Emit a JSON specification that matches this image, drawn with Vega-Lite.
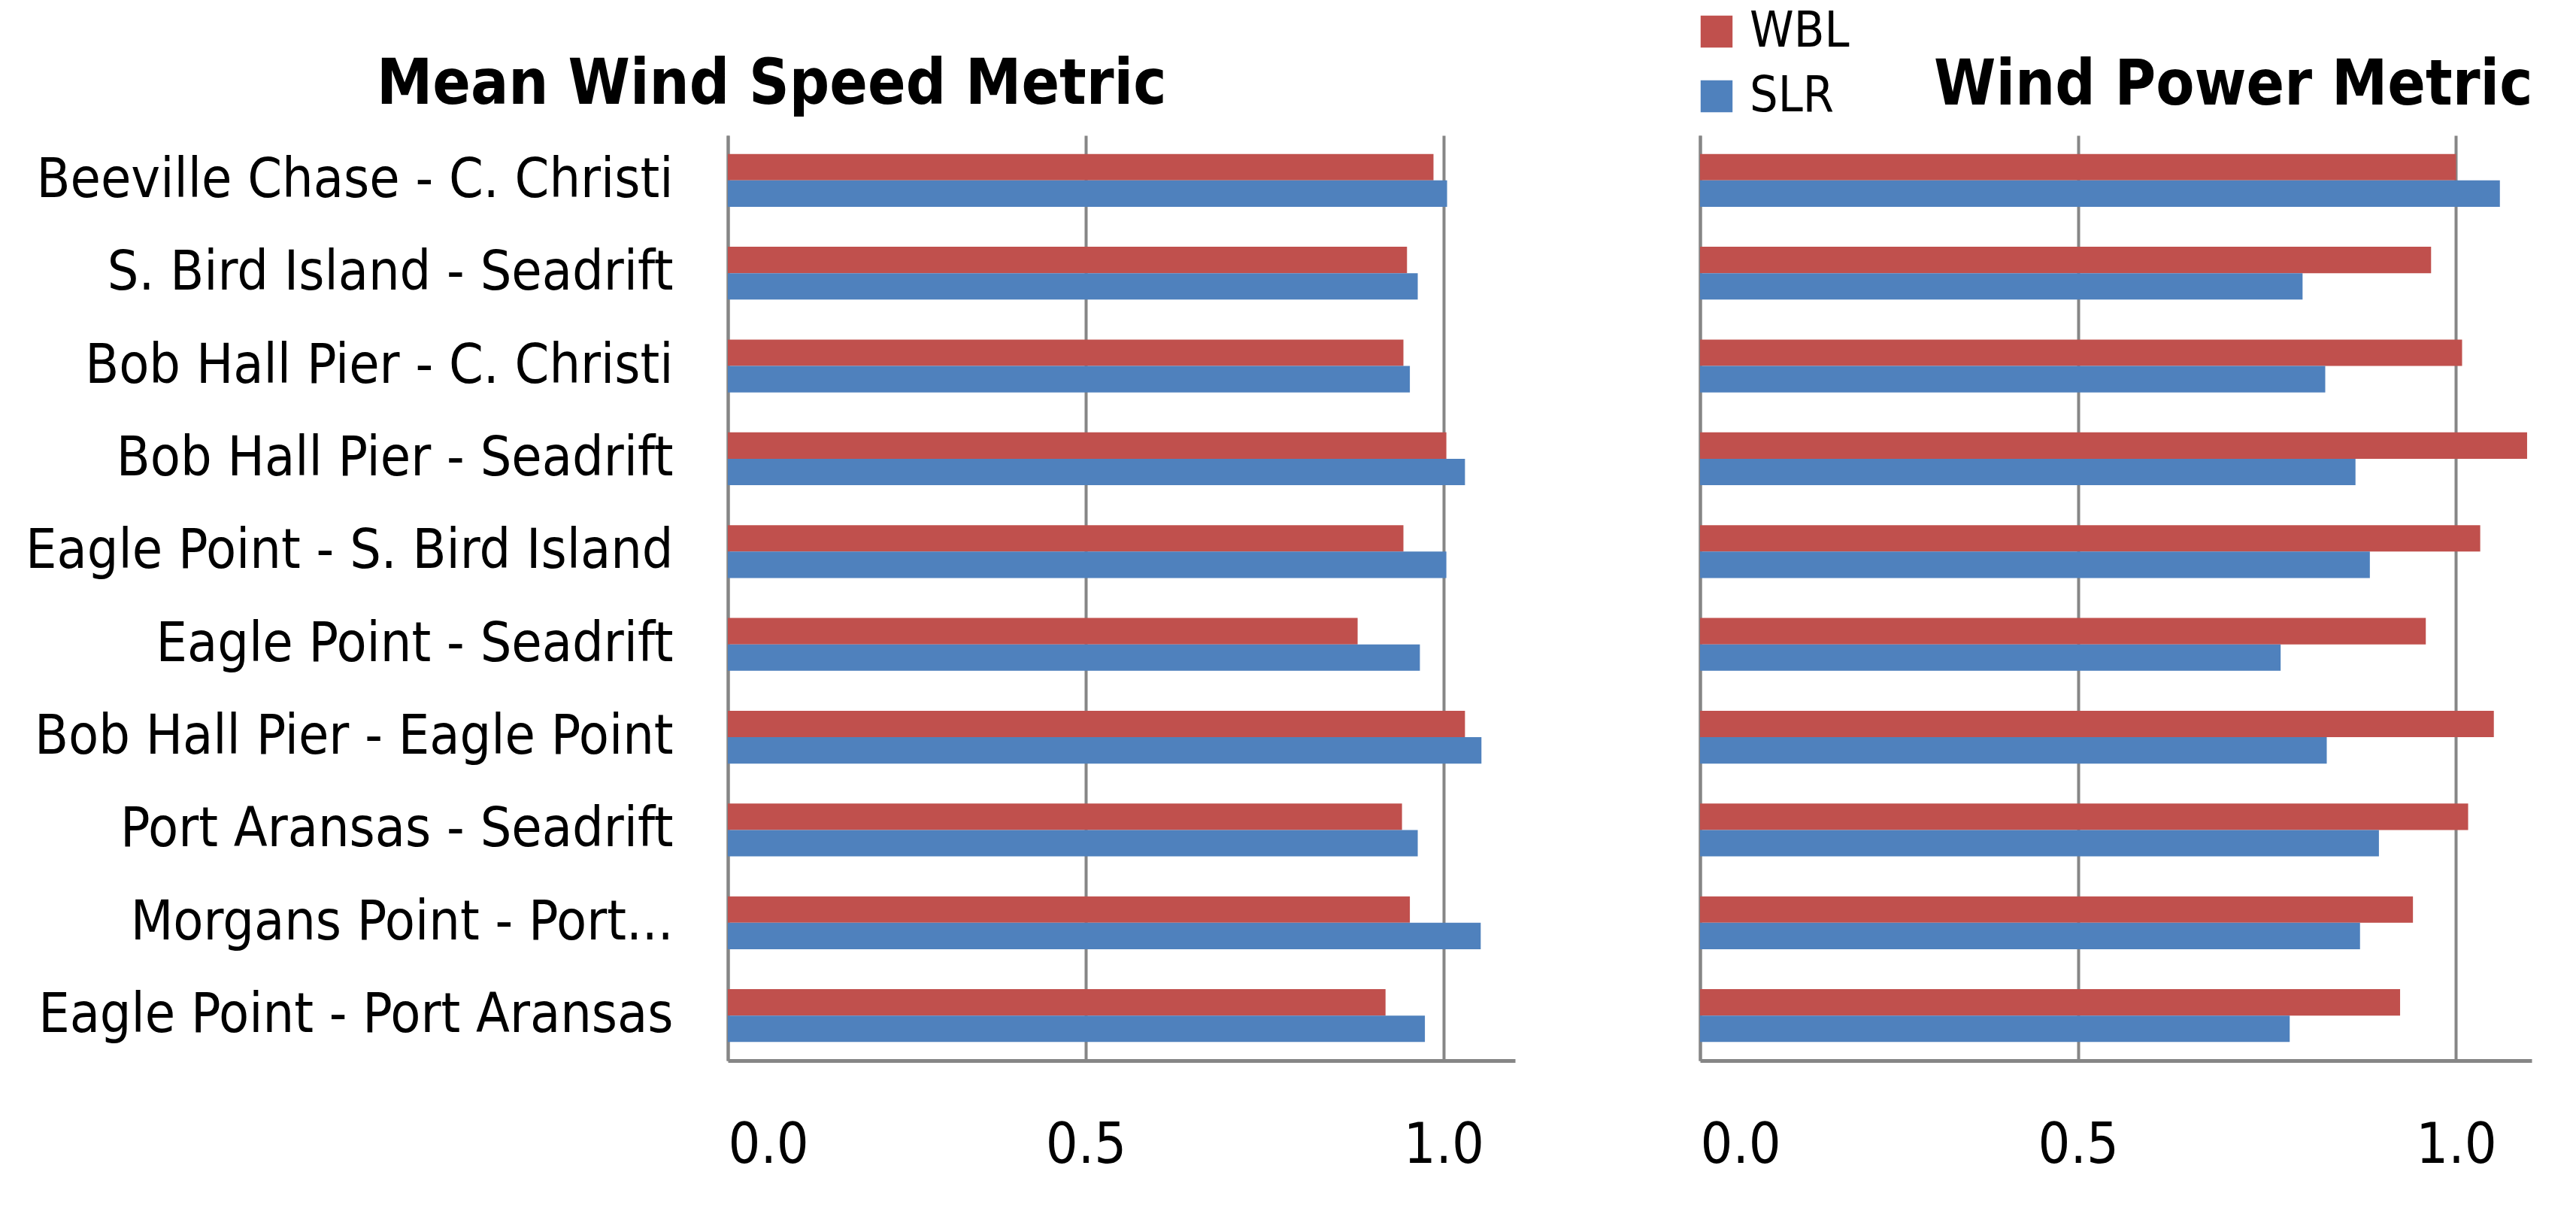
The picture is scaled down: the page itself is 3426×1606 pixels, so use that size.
{
  "$schema": "https://vega.github.io/schema/vega-lite/v6.json",
  "background": "white",
  "padding": {"left": 33, "top": 9, "right": 0, "bottom": 0},
  "config": {
    "font": "DejaVu Sans Condensed, sans-serif",
    "view": {"stroke": null},
    "axis": {"labelColor": "black", "title": null, "ticks": false, "domainColor": "#868686", "gridColor": "#868686", "gridOpacity": 1}
  },
  "data": {
    "values": [
      {"pair": "Beeville Chase - C. Christi", "metric": "speed", "method": "WBL", "value": 0.986},
      {"pair": "Beeville Chase - C. Christi", "metric": "speed", "method": "SLR", "value": 1.005},
      {"pair": "S. Bird Island - Seadrift", "metric": "speed", "method": "WBL", "value": 0.949},
      {"pair": "S. Bird Island - Seadrift", "metric": "speed", "method": "SLR", "value": 0.964},
      {"pair": "Bob Hall Pier - C. Christi", "metric": "speed", "method": "WBL", "value": 0.944},
      {"pair": "Bob Hall Pier - C. Christi", "metric": "speed", "method": "SLR", "value": 0.953},
      {"pair": "Bob Hall Pier - Seadrift", "metric": "speed", "method": "WBL", "value": 1.004},
      {"pair": "Bob Hall Pier - Seadrift", "metric": "speed", "method": "SLR", "value": 1.030},
      {"pair": "Eagle Point - S. Bird Island", "metric": "speed", "method": "WBL", "value": 0.944},
      {"pair": "Eagle Point - S. Bird Island", "metric": "speed", "method": "SLR", "value": 1.004},
      {"pair": "Eagle Point - Seadrift", "metric": "speed", "method": "WBL", "value": 0.880},
      {"pair": "Eagle Point - Seadrift", "metric": "speed", "method": "SLR", "value": 0.967},
      {"pair": "Bob Hall Pier - Eagle Point", "metric": "speed", "method": "WBL", "value": 1.030},
      {"pair": "Bob Hall Pier - Eagle Point", "metric": "speed", "method": "SLR", "value": 1.053},
      {"pair": "Port Aransas - Seadrift", "metric": "speed", "method": "WBL", "value": 0.942},
      {"pair": "Port Aransas - Seadrift", "metric": "speed", "method": "SLR", "value": 0.964},
      {"pair": "Morgans Point - Port...", "metric": "speed", "method": "WBL", "value": 0.953},
      {"pair": "Morgans Point - Port...", "metric": "speed", "method": "SLR", "value": 1.052},
      {"pair": "Eagle Point - Port Aransas", "metric": "speed", "method": "WBL", "value": 0.919},
      {"pair": "Eagle Point - Port Aransas", "metric": "speed", "method": "SLR", "value": 0.974},
      {"pair": "Beeville Chase - C. Christi", "metric": "power", "method": "WBL", "value": 1.000},
      {"pair": "Beeville Chase - C. Christi", "metric": "power", "method": "SLR", "value": 1.058},
      {"pair": "S. Bird Island - Seadrift", "metric": "power", "method": "WBL", "value": 0.967},
      {"pair": "S. Bird Island - Seadrift", "metric": "power", "method": "SLR", "value": 0.797},
      {"pair": "Bob Hall Pier - C. Christi", "metric": "power", "method": "WBL", "value": 1.008},
      {"pair": "Bob Hall Pier - C. Christi", "metric": "power", "method": "SLR", "value": 0.827},
      {"pair": "Bob Hall Pier - Seadrift", "metric": "power", "method": "WBL", "value": 1.094},
      {"pair": "Bob Hall Pier - Seadrift", "metric": "power", "method": "SLR", "value": 0.867},
      {"pair": "Eagle Point - S. Bird Island", "metric": "power", "method": "WBL", "value": 1.032},
      {"pair": "Eagle Point - S. Bird Island", "metric": "power", "method": "SLR", "value": 0.886},
      {"pair": "Eagle Point - Seadrift", "metric": "power", "method": "WBL", "value": 0.960},
      {"pair": "Eagle Point - Seadrift", "metric": "power", "method": "SLR", "value": 0.768},
      {"pair": "Bob Hall Pier - Eagle Point", "metric": "power", "method": "WBL", "value": 1.050},
      {"pair": "Bob Hall Pier - Eagle Point", "metric": "power", "method": "SLR", "value": 0.829},
      {"pair": "Port Aransas - Seadrift", "metric": "power", "method": "WBL", "value": 1.016},
      {"pair": "Port Aransas - Seadrift", "metric": "power", "method": "SLR", "value": 0.898},
      {"pair": "Morgans Point - Port...", "metric": "power", "method": "WBL", "value": 0.943},
      {"pair": "Morgans Point - Port...", "metric": "power", "method": "SLR", "value": 0.873},
      {"pair": "Eagle Point - Port Aransas", "metric": "power", "method": "WBL", "value": 0.926},
      {"pair": "Eagle Point - Port Aransas", "metric": "power", "method": "SLR", "value": 0.780}
    ]
  },
  "spacing": 235,
  "resolve": {"scale": {"x": "independent", "y": "independent"}, "legend": {"color": "independent"}},
  "hconcat": [
    {
      "width": 1047,
      "height": 1230,
      "title": {"text": "Mean Wind Speed Metric", "anchor": "start", "frame": "group", "dx": -467, "dy": 85, "offset": 44, "baseline": "alphabetic", "fontSize": 83, "fontWeight": "bold", "color": "black"},
      "transform": [{"filter": "datum.metric === 'speed'"}],
      "mark": {"type": "bar"},
      "encoding": {
        "y": {
          "field": "pair", "type": "nominal", "sort": null,
          "scale": {"paddingInner": 0.43, "paddingOuter": 0.2},
          "axis": {"labelFontSize": 73, "labelPadding": 73, "labelLimit": 0, "domainWidth": 4}
        },
        "yOffset": {"field": "method", "sort": ["WBL", "SLR"], "scale": {"paddingInner": 0}},
        "x": {
          "field": "value", "type": "quantitative",
          "scale": {"domain": [0, 1.1], "nice": false},
          "axis": {"values": [0, 0.5, 1], "format": ".1f", "grid": true, "gridWidth": 4, "domainWidth": 5, "labelFontSize": 75, "labelPadding": 76}
        },
        "color": {
          "field": "method", "type": "nominal",
          "scale": {"domain": ["WBL", "SLR"], "range": ["#C0504D", "#4F81BD"]},
          "legend": null
        }
      }
    },
    {
      "width": 1106,
      "height": 1230,
      "title": {"text": "Wind Power Metric", "anchor": "start", "frame": "group", "dx": 311, "dy": 75, "offset": -138, "baseline": "alphabetic", "fontSize": 83, "fontWeight": "bold", "color": "black"},
      "transform": [{"filter": "datum.metric === 'power'"}],
      "mark": {"type": "bar"},
      "encoding": {
        "y": {
          "field": "pair", "type": "nominal", "sort": null,
          "scale": {"paddingInner": 0.43, "paddingOuter": 0.2},
          "axis": {"labels": false, "domainWidth": 4}
        },
        "yOffset": {"field": "method", "sort": ["WBL", "SLR"], "scale": {"paddingInner": 0}},
        "x": {
          "field": "value", "type": "quantitative",
          "scale": {"domain": [0, 1.1], "nice": false},
          "axis": {"values": [0, 0.5, 1], "format": ".1f", "grid": true, "gridWidth": 4, "domainWidth": 5, "labelFontSize": 75, "labelPadding": 76}
        },
        "color": {
          "field": "method", "type": "nominal",
          "scale": {"domain": ["WBL", "SLR"], "range": ["#C0504D", "#4F81BD"]},
          "legend": {
            "title": null, "orient": "none", "legendX": -11, "legendY": -171,
            "symbolType": "square", "symbolSize": 1800, "symbolStrokeWidth": 0,
            "labelFontSize": 66, "labelColor": "black", "labelOffset": 11, "rowPadding": 20
          }
        }
      }
    }
  ]
}
